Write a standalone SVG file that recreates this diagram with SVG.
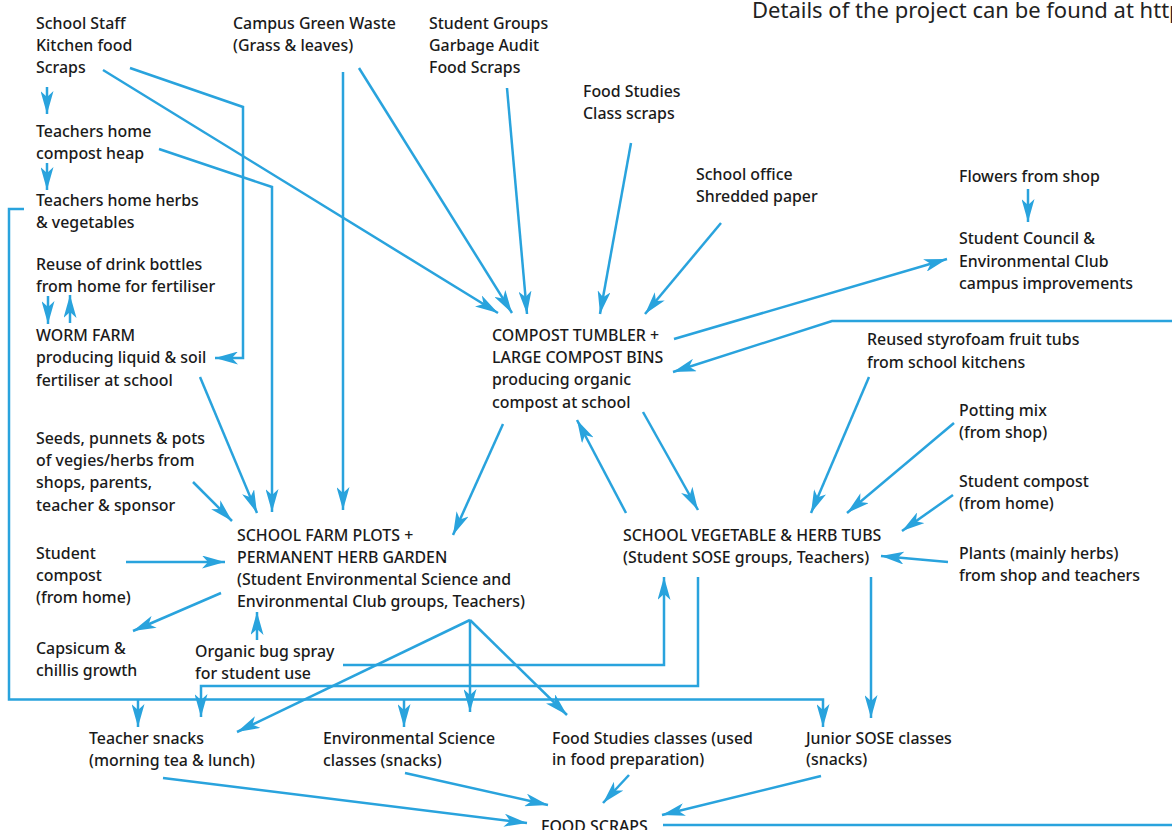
<svg xmlns="http://www.w3.org/2000/svg" width="1172" height="830" viewBox="0 0 1172 830">
<style>
text{font-family:"Noto Sans","Liberation Sans",sans-serif;font-size:15.9px;font-weight:500;fill:#1a1a1a}
.hd{font-size:22px;font-weight:400;fill:#222}
.c path{fill:none;stroke:#29a3dd;stroke-width:2.5;stroke-linejoin:miter}
.a{marker-end:url(#ah)}
</style>
<defs>
<marker id="ah" markerUnits="userSpaceOnUse" viewBox="0 0 23 13" markerWidth="23" markerHeight="13" refX="23" refY="6.5" orient="auto">
<path d="M0,0 L23,6.5 L0,13 L6,6.5 Z" fill="#29a3dd"/>
</marker>
</defs>
<rect width="1172" height="830" fill="#fff"/>
<text class="hd" x="752" y="18">Details of the project can be found at http</text>
<g class="c" id="connectors">
<path class="a" d="M47,87 L47,114"/>
<path class="a" d="M47,163 L47,190"/>
<path class="a" d="M130,68 L243,107 L243,358 L215,358"/>
<path class="a" d="M103,70 L498,313"/>
<path class="a" d="M159,149 L272,187 L272,512"/>
<path class="a" d="M343,72 L343,510"/>
<path class="a" d="M359,68 L512,313"/>
<path class="a" d="M507,88 L527,314"/>
<path class="a" d="M631,143 L600,314"/>
<path class="a" d="M721,223 L645,314"/>
<path class="a" d="M674,339 L947,259"/>
<path class="a" d="M1172,321 L832,321 L673,372"/>
<path class="a" d="M1028,189 L1028,222"/>
<path class="a" d="M48,296 L48,324"/>
<path class="a" d="M70,323 L70,295"/>
<path class="a" d="M200,377 L257,513"/>
<path class="a" d="M193,482 L232,521"/>
<path class="a" d="M503,424 L453,535"/>
<path class="a" d="M626,513 L577,420"/>
<path class="a" d="M643,412 L698,510"/>
<path class="a" d="M869,377 L811,513"/>
<path class="a" d="M954,423 L847,513"/>
<path class="a" d="M953,495 L902,531"/>
<path class="a" d="M948,562 L881,556"/>
<path class="a" d="M126,562 L225,562"/>
<path class="a" d="M221,593 L133,631"/>
<path class="a" d="M257,640 L257,612"/>
<path class="a" d="M343,665 L664,665 L664,577"/>
<path class="a" d="M698,577 L698,686 L201,686 L201,717"/>
<path class="a" d="M24,209 L9,209 L9,699.5 L823,699.5 L823,727"/>
<path class="a" d="M138,699.5 L138,727"/>
<path class="a" d="M404,699.5 L404,727"/>
<path class="a" d="M470,620 L237,732"/>
<path class="a" d="M470,620 L470,712"/>
<path class="a" d="M470,620 L567,715"/>
<path class="a" d="M871,577 L871,718"/>
<path class="a" d="M163,778 L527,823"/>
<path class="a" d="M405,773 L548,805"/>
<path class="a" d="M629,775 L603,803"/>
<path class="a" d="M821,776 L662,815"/>
<path d="M663,825 L1172,825"/>
</g>
<g id="n_staff"><text x="36" y="29">School Staff</text><text x="36" y="51">Kitchen food</text><text x="36" y="73">Scraps</text></g>
<g id="n_green"><text x="233" y="29">Campus Green Waste</text><text x="233" y="51">(Grass &amp; leaves)</text></g>
<g id="n_groups"><text x="429" y="29">Student Groups</text><text x="429" y="51">Garbage Audit</text><text x="429" y="73">Food Scraps</text></g>
<g id="n_fsscraps"><text x="583" y="97">Food Studies</text><text x="583" y="119">Class scraps</text></g>
<g id="n_office"><text x="696" y="180">School office</text><text x="696" y="202">Shredded paper</text></g>
<g id="n_flowers"><text x="959" y="182">Flowers from shop</text></g>
<g id="n_council"><text x="959" y="244">Student Council &amp;</text><text x="959" y="267">Environmental Club</text><text x="959" y="289">campus improvements</text></g>
<g id="n_heap"><text x="36" y="137">Teachers home</text><text x="36" y="159">compost heap</text></g>
<g id="n_herbs"><text x="36" y="206">Teachers home herbs</text><text x="36" y="228">&amp; vegetables</text></g>
<g id="n_bottles"><text x="36" y="270">Reuse of drink bottles</text><text x="36" y="292">from home for fertiliser</text></g>
<g id="n_worm"><text x="36" y="341">WORM FARM</text><text x="36" y="363">producing liquid &amp; soil</text><text x="36" y="386">fertiliser at school</text></g>
<g id="n_compost"><text x="492" y="341">COMPOST TUMBLER +</text><text x="492" y="363">LARGE COMPOST BINS</text><text x="492" y="385">producing organic</text><text x="492" y="408">compost at school</text></g>
<g id="n_styro"><text x="867" y="345">Reused styrofoam fruit tubs</text><text x="867" y="368">from school kitchens</text></g>
<g id="n_potting"><text x="959" y="416">Potting mix</text><text x="959" y="438">(from shop)</text></g>
<g id="n_scompost_r"><text x="959" y="487">Student compost</text><text x="959" y="509">(from home)</text></g>
<g id="n_plants"><text x="959" y="559">Plants (mainly herbs)</text><text x="959" y="581">from shop and teachers</text></g>
<g id="n_seeds"><text x="36" y="444">Seeds, punnets &amp; pots</text><text x="36" y="466">of vegies/herbs from</text><text x="36" y="488">shops, parents,</text><text x="36" y="511">teacher &amp; sponsor</text></g>
<g id="n_farm"><text x="237" y="541">SCHOOL FARM PLOTS +</text><text x="237" y="563">PERMANENT HERB GARDEN</text><text x="237" y="585">(Student Environmental Science and</text><text x="237" y="607">Environmental Club groups, Teachers)</text></g>
<g id="n_tubs"><text x="623" y="541">SCHOOL VEGETABLE &amp; HERB TUBS</text><text x="623" y="563">(Student SOSE groups, Teachers)</text></g>
<g id="n_scompost_l"><text x="36" y="559">Student</text><text x="36" y="581">compost</text><text x="36" y="603">(from home)</text></g>
<g id="n_capsicum"><text x="36" y="654">Capsicum &amp;</text><text x="36" y="676">chillis growth</text></g>
<g id="n_bugspray"><text x="195" y="657">Organic bug spray</text><text x="195" y="679">for student use</text></g>
<g id="n_tsnacks"><text x="89" y="744">Teacher snacks</text><text x="89" y="766">(morning tea &amp; lunch)</text></g>
<g id="n_envsci"><text x="323" y="744">Environmental Science</text><text x="323" y="766">classes (snacks)</text></g>
<g id="n_fsclasses"><text x="552" y="744">Food Studies classes (used</text><text x="552" y="765">in food preparation)</text></g>
<g id="n_junior"><text x="806" y="744">Junior SOSE classes</text><text x="806" y="765">(snacks)</text></g>
<g id="n_foodscraps"><text x="541" y="832">FOOD SCRAPS</text></g>
</svg>
